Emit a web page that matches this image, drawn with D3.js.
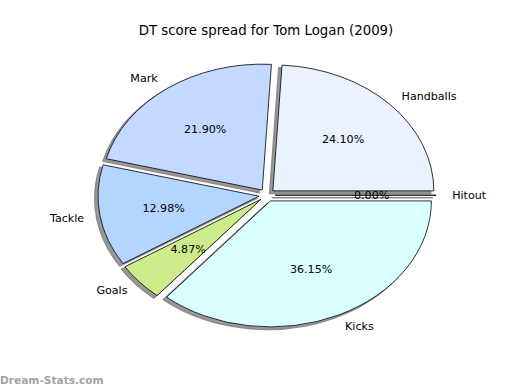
<!DOCTYPE html>
<html lang="en">
<head>
<meta charset="UTF-8">
<script src="https://d3js.org/d3.v7.min.js"></script>
<style>
    body { margin: 0; background: #fff; }
    svg text { font-family: "DejaVu Sans", sans-serif; fill: #000; }
</style>
</head>
<body>
<svg id="viz" width="520" height="390"></svg>
<script>
// slices in matplotlib order (counter-clockwise from 3 o'clock)
var labels = ["Handballs", "Mark", "Tackle", "Goals", "Kicks", "Hitout"];
var values = [24.10, 21.90, 12.98, 4.87, 36.15, 0.00];
var colors = ["#EAF1FF", "#C3D9FF", "#B4D5FF", "#CDEB8B", "#DAFFFF", "#DAFFFF"];

var svg = d3.select("#viz");
var cx = 267, cy = 195.2, rx = 161, ry = 126;
var explode = 0.05;

svg.append("rect").attr("width", 520).attr("height", 390).attr("fill", "#fff");

svg.append("text")
    .attr("x", 266).attr("y", 30)
    .attr("dy", "0.35em")
    .attr("text-anchor", "middle")
    .attr("font-size", 13.3)
    .text("DT score spread for Tom Logan (2009)");

// d3 angles: 0 at 12 o'clock clockwise, so run from pi/2 backwards
var pie = d3.pie().sort(null).value(function(d) { return d; })
    .startAngle(Math.PI / 2).endAngle(Math.PI / 2 - 2 * Math.PI);
var arcs = pie(values);
var arc = d3.arc().innerRadius(0).outerRadius(1);

var g = svg.append("g")
    .attr("transform", "translate(" + cx + "," + cy + ") scale(" + rx + "," + ry + ")");

function mid(d) { return (d.startAngle + d.endAngle) / 2; }

var slice = g.selectAll("g.slice")
    .data(arcs)
    .enter().append("g")
    .attr("class", "slice")
    .attr("transform", function(d) {
        var a = mid(d);
        return "translate(" + (Math.sin(a) * explode) + "," + (-Math.cos(a) * explode) + ")";
    });

// shadow
slice.append("path")
    .attr("d", arc)
    .attr("transform", "translate(-0.02,0.02)")
    .attr("fill", "#000")
    .attr("fill-opacity", 0.4)
    .attr("stroke", "#8c8c8c")
    .attr("stroke-width", 1.5)
    .attr("vector-effect", "non-scaling-stroke");

slice.append("path")
    .attr("d", arc)
    .attr("fill", function(d, i) { return colors[i]; })
    .attr("stroke", "#000")
    .attr("stroke-width", 0.8)
    .attr("stroke-linejoin", "round")
    .attr("vector-effect", "non-scaling-stroke");

function pos(d, r) {
    var a = mid(d);
    var ox = Math.sin(a) * explode, oy = -Math.cos(a) * explode;
    return [cx + rx * (ox + r * Math.sin(a)), cy + ry * (oy - r * Math.cos(a))];
}

var lab = svg.append("g").attr("font-size", 11.1);

lab.selectAll("text.name")
    .data(arcs)
    .enter().append("text")
    .attr("class", "name")
    .attr("x", function(d) { return pos(d, 1.1)[0]; })
    .attr("y", function(d) { return pos(d, 1.1)[1]; })
    .attr("dy", "0.35em")
    .attr("text-anchor", function(d) { return Math.sin(mid(d)) > 0 ? "start" : "end"; })
    .text(function(d, i) { return labels[i]; });

lab.selectAll("text.pct")
    .data(arcs)
    .enter().append("text")
    .attr("class", "pct")
    .attr("x", function(d) { return pos(d, 0.6)[0]; })
    .attr("y", function(d) { return pos(d, 0.6)[1]; })
    .attr("dy", "0.35em")
    .attr("text-anchor", "middle")
    .text(function(d) { return d.value.toFixed(2) + "%"; });

svg.append("text")
    .attr("x", 0).attr("y", 384)
    .attr("font-size", 10.6)
    .attr("font-weight", "bold")
    .style("fill", "#a3a3a3")
    .text("Dream-Stats.com");
</script>
</body>
</html>
